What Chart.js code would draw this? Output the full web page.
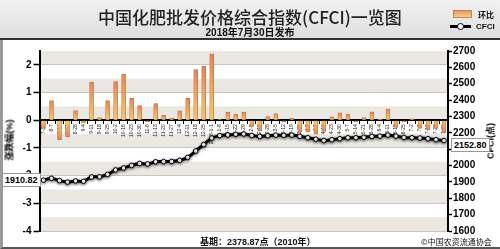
<!DOCTYPE html>
<html>
<head>
<meta charset="utf-8">
<script src="https://cdn.jsdelivr.net/npm/chart.js@4/dist/chart.umd.min.js"></script>
<style>
  html, body { margin: 0; padding: 0; }
  body { width: 500px; height: 249px; overflow: hidden; font-family: "Liberation Sans", "Noto Sans CJK SC", sans-serif; }
  #wrap { position: relative; width: 500px; height: 249px; background: #fff; }
  #head { position: absolute; left: 0; top: 0; width: 500px; height: 38px;
          background: linear-gradient(#f2f2f2, #dedede); border-bottom: 2px solid #333; }
  #frame { position: absolute; left: 0; top: 40px; width: 497px; height: 207px;
           border-left: 3px solid #9a9a9a; border-bottom: 2px solid #555; }
  canvas { position: absolute; left: 0; top: 0; }
  .t { position: absolute; white-space: nowrap; color: #111; }
  #title { left: 0; width: 500px; top: 4px; line-height: 19px; text-align: center; font: 500 17px "Noto Sans CJK SC", sans-serif; color: #222; }
  #sub { left: 0; width: 500px; top: 24px; line-height: 12px; text-align: center; font: bold 10px "Liberation Sans", "Noto Sans CJK SC", sans-serif; }
  .lg { font: bold 8px "Liberation Sans", "Noto Sans CJK SC", sans-serif; }
  .box { position: absolute; background: #fff; border: 1px solid #999; font: bold 9px "Liberation Sans", sans-serif; padding: 0 2px; line-height: 12px; }
  .vt { position: absolute; transform: translate(-50%, -50%) rotate(-90deg); font: bold 9px "Liberation Sans", "Noto Sans CJK SC", sans-serif; white-space: nowrap; }
</style>
</head>
<body>
<div id="wrap">
  <div id="head"></div>
  <div id="frame"></div>
  <canvas id="chart" width="500" height="249"></canvas>
  <div class="t" id="title">中国化肥批发价格综合指数(CFCI)一览图</div>
  <div class="t" id="sub">2018年7月30日发布</div>
  <div style="position:absolute;left:453px;top:10px;width:17px;height:6px;background:linear-gradient(#e8946c,#f2d57e);border:1px solid #c98055"></div>
  <div class="t lg" style="left:478px;top:9px">环比</div>
  <div style="position:absolute;left:450px;top:25px;width:21px;height:3px;background:#000"></div>
  <div style="position:absolute;left:457px;top:23px;width:5px;height:5px;border-radius:50%;background:#fff;border:1px solid #000"></div>
  <div class="t lg" style="left:476px;top:22px">CFCI</div>
  <div class="vt" style="left:9px;top:140px">涨跌幅(%)</div>
  <div class="vt" style="left:490px;top:141px">CFCI(点)</div>
  <div class="box" id="firstBox" style="left:2px">1910.82</div>
  <div class="box" id="lastBox" style="left:451px">2152.80</div>
  <div class="t" style="left:200px;top:235px;font:bold 9px 'Liberation Sans','Noto Sans CJK SC',sans-serif">基期：2378.87点（2010年）</div>
  <div class="t" style="left:421px;top:236px;font:8px 'Noto Sans CJK SC',sans-serif">©中国农资流通协会</div>
</div>
<script>
// weekly data, 2017-07-31 .. 2018-07-30
const weeks = ['7-31','8-7','8-14','8-21','8-28','9-4','9-11','9-18','9-25','10-2',
  '10-16','10-23','10-30','11-6','11-13','11-20','11-27','12-4','12-11','12-18',
  '12-25','2018-1-1','1-8','1-15','1-22','1-29','2-5','2-12','2-26','3-5',
  '3-12','3-19','3-26','4-2','4-9','4-16','4-23','4-30','5-7','5-14',
  '5-21','5-28','6-4','6-11','6-18','6-25','7-2','7-9','7-16','7-23','7-30'];

// 环比 (%)
const weekChange = [-0.3, 0.71, -0.7, -0.6, 0.35, -0.1, 1.38, 0.1, 0.71, 1.4,
  1.67, 0.8, 0.53, -0.05, 0.6, 0.18, 0.08, 0.34, 0.8, 1.83,
  1.95, 2.4, 0.02, 0.29, 0.22, 0.29, -0.22, -0.38, 0.13, 0.24,
  -0.05, 0.07, -0.42, -0.42, -0.5, -0.4, 0.12, 0.27, 0.22, -0.05,
  0.1, 0.3, 0.04, 0.4, -0.26, -0.05, 0.05, -0.3, -0.35, -0.3, -0.45];

// CFCI (点)
const cfci = [1910.82, 1922, 1908, 1899, 1906, 1904, 1930, 1931, 1946, 1973,
  1985, 2001, 2013, 2010, 2023, 2024, 2025, 2032, 2050, 2089,
  2128, 2168, 2183, 2187, 2191, 2193, 2184, 2178, 2182, 2186,
  2185, 2186, 2179, 2170, 2161, 2153, 2158, 2164, 2170, 2170,
  2173, 2178, 2180, 2186, 2180, 2172, 2170, 2168, 2164, 2158, 2152.80];

const tickFont = { family: 'Liberation Sans', size: 10, weight: 'bold' };

// alternating bands behind the grid
const bands = {
  id: 'bands',
  beforeDraw(chart) {
    const { ctx, chartArea: a, scales: { y } } = chart;
    ctx.save();
    for (let v = -4; v < 2.5; v += 1) {
      const top = y.getPixelForValue(v + 0.5), bot = y.getPixelForValue(v);
      ctx.fillStyle = '#ebe7e3';
      ctx.fillRect(a.left, top, a.right - a.left, bot - top);
    }
    ctx.restore();
  },
  beforeDatasetDraw(chart, args) {
    if (args.meta.type === 'line') {
      chart.ctx.save();
      chart.ctx.shadowColor = 'rgba(0,0,0,0.45)';
      chart.ctx.shadowBlur = 3;
      chart.ctx.shadowOffsetY = 1;
    }
  },
  afterDatasetDraw(chart, args) {
    if (args.meta.type === 'line') chart.ctx.restore();
  }
};

function barFill(c) {
  const chart = c.chart;
  if (!chart.chartArea || c.raw === undefined) return '#eeb677';
  const y = chart.scales.y;
  const y0 = y.getPixelForValue(0), y1 = y.getPixelForValue(c.raw);
  if (Math.abs(y1 - y0) < 1) return '#f2d070';
  const g = chart.ctx.createLinearGradient(0, y1, 0, y0);
  g.addColorStop(0, '#e4835a');
  g.addColorStop(1, '#f1d064');
  return g;
}

const chart = new Chart(document.getElementById('chart'), {
  type: 'bar',
  data: {
    labels: weeks,
    datasets: [
      {
        type: 'line',
        label: 'CFCI',
        data: cfci,
        yAxisID: 'y1',
        order: 0,
        borderColor: '#000',
        borderWidth: 3,
        tension: 0.3,
        pointRadius: 2.3,
        pointBackgroundColor: '#fff',
        pointBorderColor: '#000',
        pointBorderWidth: 1
      },
      {
        label: '环比',
        data: weekChange,
        yAxisID: 'y',
        order: 1,
        backgroundColor: barFill,
        borderColor: '#c9744c',
        borderWidth: 0.8,
        barThickness: 4
      }
    ]
  },
  options: {
    responsive: false,
    animation: false,
    events: [],
    layout: { padding: { left: 0, right: 0, top: 51, bottom: 18 } },
    plugins: { legend: { display: false }, tooltip: { enabled: false } },
    scales: {
      x: {
        position: { y: 0 },
        offset: true,
        border: { color: '#000', width: 2 },
        grid: { drawOnChartArea: false, offset: true, color: '#000', tickLength: 3 },
        ticks: {
          autoSkip: false, maxRotation: 90, minRotation: 90, padding: 1,
          color: '#222', font: { family: 'Liberation Sans', size: 5 }
        }
      },
      y: {
        position: 'left',
        min: -4, max: 2.5,
        afterFit: s => { s.width = 39.5; },
        border: { color: '#000', width: 2 },
        grid: {
          color: '#c9c5c2',
          tickLength: 6,
          tickColor: c => Number.isInteger(c.tick.value) ? '#000' : 'rgba(0,0,0,0)',
          tickWidth: 1.5
        },
        ticks: {
          stepSize: 0.5, padding: 2, color: '#000', font: tickFont,
          callback: v => Number.isInteger(v) ? v : ''
        }
      },
      y1: {
        position: 'right',
        min: 1600, max: 2700,
        afterFit: s => { s.width = 52; },
        border: { color: '#000', width: 2 },
        grid: { drawOnChartArea: false, color: '#000', tickLength: 4, tickWidth: 1.5 },
        ticks: { stepSize: 100, padding: 1, color: '#000', font: tickFont, callback: v => String(v) }
      }
    }
  },
  plugins: [bands]
});

// value boxes for first and last CFCI points
const r = chart.scales.y1;
document.getElementById('firstBox').style.top = (r.getPixelForValue(cfci[0]) - 7) + 'px';
document.getElementById('lastBox').style.top = (r.getPixelForValue(cfci[cfci.length - 1]) - 3) + 'px';
</script>
</body>
</html>
